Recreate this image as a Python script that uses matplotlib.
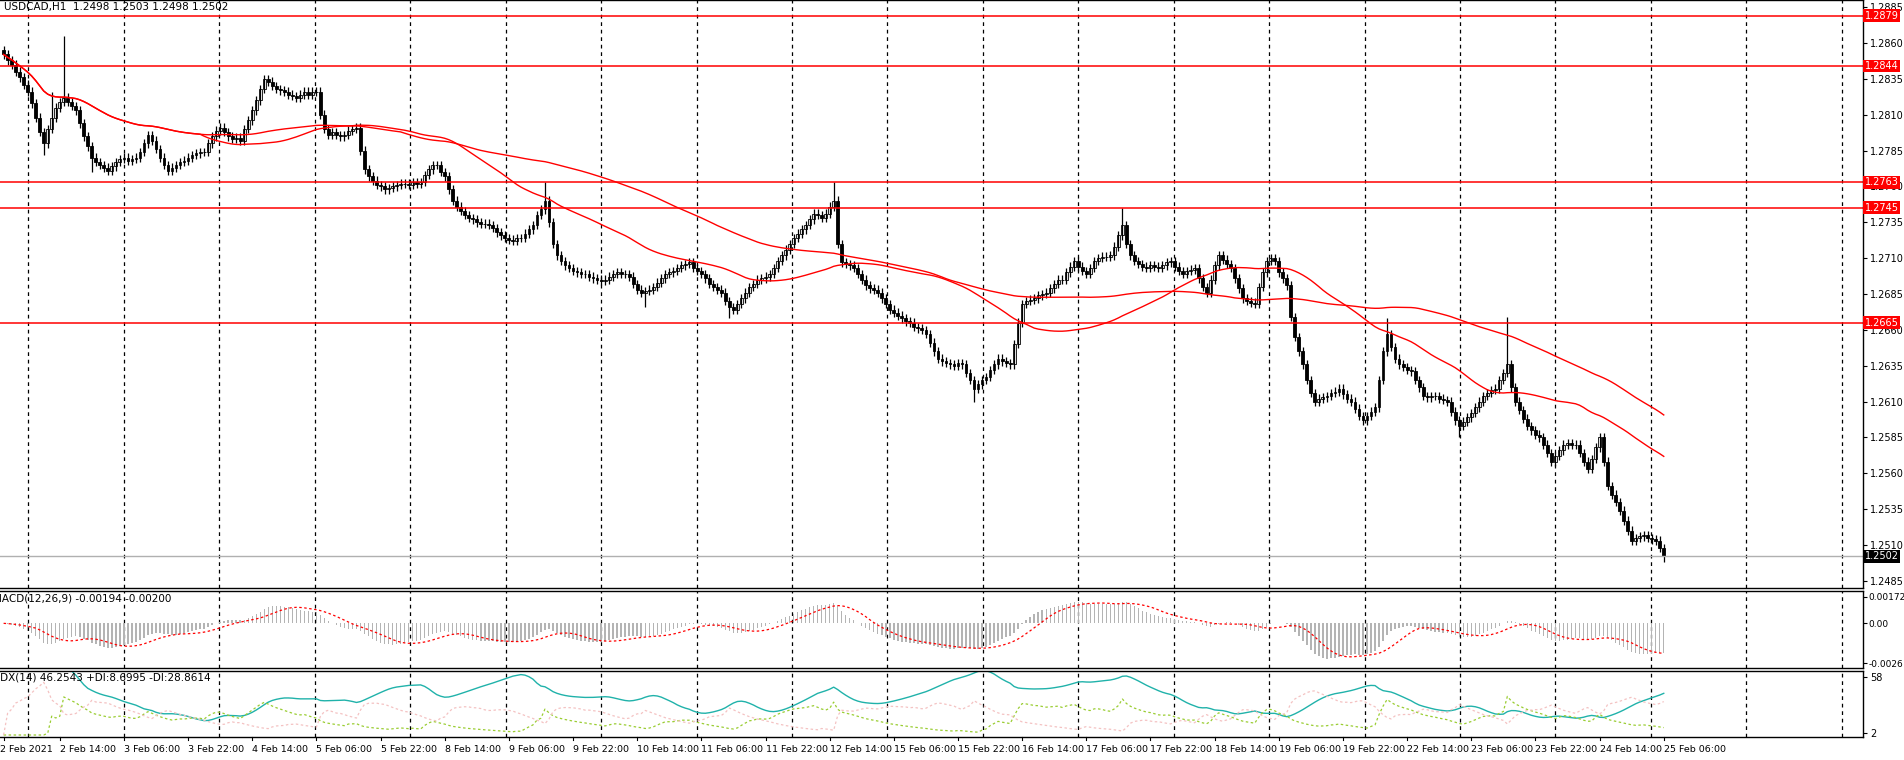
import numpy as np
import pandas as pd
import matplotlib
matplotlib.use("Agg")
import matplotlib.pyplot as plt
from datetime import datetime, timedelta

# hourly closes, in pips above 1.2000
closes_txt = """
852 848 845 840 836 831 826 818 808 798 790 800 808 815 819 822 819 816 813 804 795 788 780 777
775 773 771 774 777 779 780 778 779 780 784 790 796 792 786 780 775 771 773 775 777 778 780 782
783 784 784 790 795 799 801 798 795 793 794 792 800 806 813 820 828 835 833 830 828 827 826 824
823 822 824 826 824 826 826 810 800 796 798 796 795 796 799 800 801 785 772 767 764 761 760 758
759 760 761 762 762 761 763 762 763 768 772 775 775 770 767 758 750 746 743 740 738 737 735 734
734 733 731 728 726 724 723 722 724 724 727 730 733 740 744 750 735 720 712 708 705 703 701 700
699 699 697 696 695 694 695 697 699 700 699 699 697 692 688 686 687 688 690 693 696 699 700 701
703 705 706 707 703 701 699 696 692 690 688 686 680 676 674 678 682 686 690 692 695 696 697 699
703 708 712 716 720 724 727 730 733 737 741 740 738 741 746 750 720 707 706 705 703 699 695 691
689 688 686 682 678 674 672 670 668 666 665 662 661 660 657 651 645 640 638 637 636 635 637 636
630 625 619 622 625 627 632 636 640 638 637 636 650 665 678 680 681 682 684 685 686 689 692 695
695 700 704 708 704 701 699 703 708 710 711 711 712 718 726 733 720 712 708 706 704 703 705 704
703 705 707 708 704 701 699 701 702 703 696 690 686 695 705 712 709 706 703 696 689 682 680 679
678 690 700 708 710 708 700 696 691 669 655 645 636 625 616 610 612 613 614 616 617 619 615 612
610 605 600 597 600 603 606 625 645 657 648 640 636 634 632 631 625 620 614 613 614 614 612 611
610 603 597 593 596 599 602 606 610 614 616 618 619 625 630 636 620 610 604 598 593 590 587 585
580 574 568 572 576 580 581 580 580 574 568 563 570 578 585 568 551 545 540 534 527 520 513 515
516 517 515 514 513 508 502
"""
first_open = 855
# notable wick extremes (bar index: pips)
spike_highs = {15: 865, 135: 763, 207: 763, 279: 745, 345: 668, 375: 669, 12: 826}
spike_lows = {10: 782, 22: 770, 242: 610, 363: 585, 160: 676, 181: 668, 414: 498}
wick = 3

levels = [1.2879, 1.2844, 1.2763, 1.2745, 1.2665]
last_price = 1.2502
price_ticks = [1.2485, 1.2510, 1.2535, 1.2560, 1.2585, 1.2610, 1.2635, 1.2660, 1.2685,
               1.2710, 1.2735, 1.2760, 1.2785, 1.2810, 1.2835, 1.2860, 1.2885]

c = 1.2 + np.array(closes_txt.split(), dtype=float) / 1e4
n = len(c)
o = np.concatenate([[1.2 + first_open / 1e4], c[:-1]])
h = np.maximum(o, c) + wick / 1e4
l = np.minimum(o, c) - wick / 1e4
for k, v in spike_highs.items():
    h[k] = max(h[k], 1.2 + v / 1e4)
for k, v in spike_lows.items():
    l[k] = min(l[k], 1.2 + v / 1e4)

# bar timestamps (skip weekends)
times = []
t = datetime(2021, 2, 2, 0)
while len(times) < n:
    if t.weekday() < 5:
        times.append(t)
    t += timedelta(hours=1)

s = pd.Series(c)
ma_fast = s.rolling(50, min_periods=1).mean()
ma_slow = s.rolling(100, min_periods=1).mean()

ema12 = s.ewm(span=12, adjust=False).mean()
ema26 = s.ewm(span=26, adjust=False).mean()
macd = ema12 - ema26
signal = macd.rolling(9, min_periods=1).mean()

# ADX(14)
hs, ls, cs = pd.Series(h), pd.Series(l), pd.Series(c)
up = hs.diff()
dn = -ls.diff()
pdm = np.where((up > dn) & (up > 0), up, 0.0)
mdm = np.where((dn > up) & (dn > 0), dn, 0.0)
tr = pd.concat([hs - ls, (hs - cs.shift()).abs(), (ls - cs.shift()).abs()], axis=1).max(axis=1)
atr = tr.ewm(alpha=1 / 14, adjust=True).mean()
pdi = 100 * pd.Series(pdm).ewm(alpha=1 / 14, adjust=True).mean() / atr
mdi = 100 * pd.Series(mdm).ewm(alpha=1 / 14, adjust=True).mean() / atr
dx = 100 * (pdi - mdi).abs() / (pdi + mdi).replace(0, np.nan)
adx = dx.bfill().ewm(alpha=1 / 14, adjust=True).mean()

W, H = 1904, 760
fig = plt.figure(figsize=(W / 100, H / 100), dpi=100)
fig.patch.set_facecolor("white")
right = 1863 / W
ax = fig.add_axes([0, (H - 588) / H, right, 588 / H])
ax2 = fig.add_axes([0, (H - 668) / H, right, 77 / H])
ax3 = fig.add_axes([0, (H - 737) / H, right, 66 / H])

x = np.arange(n)
xlim = (-0.9, -0.9 + 1863 / 4.01)
grid_x = 6.2 + 23.8 * np.arange(20)
for a in (ax, ax2, ax3):
    a.set_xlim(*xlim)
    a.set_xticks([])
    a.yaxis.tick_right()
    a.tick_params(axis="y", labelsize=7, length=3, pad=2, colors="black")
    for sp in a.spines.values():
        sp.set_color("black")
        sp.set_linewidth(1.0)
    a.spines["left"].set_visible(False)
    for gx in grid_x:
        a.axvline(gx, color="black", lw=0.9, ls=(0, (3, 3)), zorder=0)

# candles
ax.vlines(x, l, h, color="black", lw=0.9)
up_m = c >= o
ax.bar(x[up_m], (c - o)[up_m], bottom=o[up_m], width=0.7, color="white", edgecolor="black", lw=0.6)
ax.bar(x[~up_m], (o - c)[~up_m], bottom=c[~up_m], width=0.7, color="black", edgecolor="black", lw=0.6)
ax.plot(x, ma_fast, color="red", lw=1.0)
ax.plot(x, ma_slow, color="red", lw=1.0)
for lv in levels:
    ax.axhline(lv, color="red", lw=1.1)
    ax.text(1.001, lv, f"{lv:.4f}", transform=ax.get_yaxis_transform(), ha="left", va="center",
            fontsize=7, color="white", bbox=dict(boxstyle="square,pad=0.15", fc="red", ec="none"),
            clip_on=False, zorder=5)
ax.axhline(last_price, color="#b0b0b0", lw=1.0)
ax.text(1.001, last_price, f"{last_price:.4f}", transform=ax.get_yaxis_transform(), ha="left",
        va="center", fontsize=7, color="white", bbox=dict(boxstyle="square,pad=0.15", fc="black", ec="none"),
        clip_on=False, zorder=5)
ax.set_ylim(1.2480, 1.2890)
ax.set_yticks(price_ticks)
ax.set_yticklabels([f"{p:.4f}" for p in price_ticks])
ax.text(0.002, 0.997, "USDCAD,H1  1.2498 1.2503 1.2498 1.2502", transform=ax.transAxes,
        fontsize=7.5, ha="left", va="top")

# MACD
ax2.bar(x, macd, width=0.35, color="#b4b4b4")
ax2.plot(x, signal, color="red", lw=0.9, ls=(0, (2, 2)))
ax2.set_ylim(-0.0029, 0.0021)
ax2.set_yticks([0.00172, 0.0, -0.0026])
ax2.set_yticklabels(["0.00172", "0.00", "-0.0026"])
ax2.tick_params(axis="y", labelsize=6.5, pad=1)
ax2.text(-0.004, 0.97, "MACD(12,26,9) -0.00194 -0.00200", transform=ax2.transAxes,
         fontsize=7.5, ha="left", va="top")

# ADX
ax3.plot(x, adx, color="lightseagreen", lw=1.0)
ax3.plot(x, pdi, color="yellowgreen", lw=0.9, ls=(0, (2, 2)))
ax3.plot(x, mdi, color="#f4c2c2", lw=0.9, ls=(0, (2, 2)))
ax3.set_ylim(-2, 64)
ax3.set_yticks([58, 2])
ax3.set_yticklabels(["58", "2"])
ax3.text(-0.004, 0.98, "ADX(14) 46.2543 +DI:8.6995 -DI:28.8614", transform=ax3.transAxes,
         fontsize=7.5, ha="left", va="top")

# time labels
lab_idx = [0] + list(range(14, n, 16))
for i in lab_idx:
    tt = times[i]
    txt = f"{tt.day} Feb 2021" if i == 0 else f"{tt.day} Feb {tt.hour:02d}:00"
    ax3.text(i - (1 if i == 0 else 0), -0.12, txt, transform=ax3.get_xaxis_transform(),
             ha="left", va="top", fontsize=6.8, clip_on=False)
    ax3.plot([i, i], [0, -0.05], transform=ax3.get_xaxis_transform(), color="black", lw=0.8, clip_on=False)

fig.savefig("out.png", dpi=100)
